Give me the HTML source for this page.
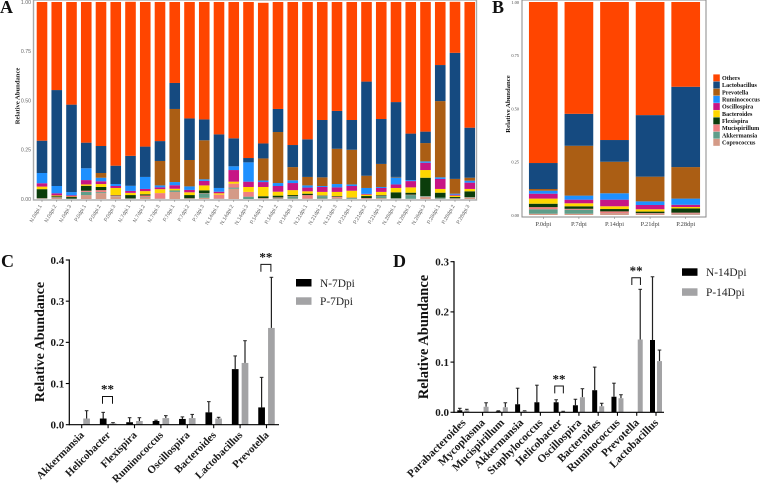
<!DOCTYPE html>
<html lang="en">
<head>
<meta charset="utf-8">
<title>Relative abundance of gut microbiota</title>
<style>
html,body{margin:0;padding:0;background:#fff;width:760px;height:485px;overflow:hidden}
svg{display:block}
text{font-family:"Liberation Serif",serif}
.sans{font-family:"Liberation Sans",sans-serif}
.letter{font-size:18px;font-weight:bold;fill:#111}
.title-bar{font-weight:bold;fill:#111;text-anchor:middle}
.tick-bar{font-weight:bold;fill:#1a1a1a}
.legend-bar{font-size:11.4px;fill:#222}
</style>
</head>
<body>
<svg id="chart" width="760" height="485" viewBox="0 0 760 485" xmlns="http://www.w3.org/2000/svg">
  <rect width="760" height="485" fill="#fff"/>
  <text class="letter" x="0" y="13">A</text>
  <text class="letter" x="492" y="13">B</text>
  <text class="letter" x="1" y="267">C</text>
  <text class="letter" x="393" y="267">D</text>
  <g id="panel-a"></g>
  <g id="panel-b"></g>
  <g id="panel-c"></g>
  <g id="panel-d"></g>
</svg>
<script>
const genera = ["Coprococcus","Akkermansia","Mucispirillum","Flexispira","Bacteroides","Oscillospira","Ruminococcus","Prevotella","Lactobacillus","Others"];
const legendOrder = ["Others","Lactobacillus","Prevotella","Ruminococcus","Oscillospira","Bacteroides","Flexispira","Mucispirillum","Akkermansia","Coprococcus"];
const stackTicks = [0, 0.25, 0.5, 0.75, 1];
const stackTickLabels = ["0.00","0.25","0.50","0.75","1.00"];

const samplesA = ["N.0dpi.1","N.0dpi.2","N.0dpi.3","P.0dpi.1","P.0dpi.2","P.0dpi.3","N.7dpi.1","N.7dpi.2","N.7dpi.3","P.7dpi.1","P.7dpi.2","P.7dpi.3","N.14dpi.1","N.14dpi.2","N.14dpi.3","P.14dpi.1","P.14dpi.2","P.14dpi.3","N.21dpi.1","N.21dpi.2","N.21dpi.3","P.21dpi.1","P.21dpi.2","P.21dpi.3","N.28dpi.1","N.28dpi.2","N.28dpi.3","P.28dpi.1","P.28dpi.2","P.28dpi.3"];
const aCoprococcus = [.003,.005,.001,.02,.03,.012,.001,.008,.001,.036,.001,.006,.001,.052,0,.001,.003,.002,.001,.002,.004,.001,.001,.004,.001,.001,.012,.002,.002,.008];
const aAkkermansia = [.002,.003,.001,.016,.005,.002,.001,.002,.001,.007,.001,.022,.001,.006,.012,.002,.003,.01,.001,.013,.002,.004,.001,.011,.002,.019,.003,.005,.001,.002];
const aMucispirillum = [0,.002,0,.006,.01,.004,.001,.008,.028,0,.002,.002,.02,.02,.024,.002,.002,.002,.018,.002,.006,.002,.003,.002,.001,.002,0,0,.001,0];
const aFlexispira = [.045,.004,.008,.025,.016,.002,.017,.006,0,.001,.016,.014,0,0,0,.009,.009,.006,.007,.002,.003,.001,.01,.003,.03,.01,.093,.025,.006,.029];
const aBacteroides = [.013,.004,.003,.007,.015,.036,.011,.016,.02,.008,.014,.025,.007,.01,.025,.047,.02,.025,.012,.017,.021,.034,.007,.016,.022,.027,.039,.019,.007,.012];
const aOscillospira = [.017,.011,.006,.022,.014,.01,.01,.011,.009,.018,.012,.023,.008,.059,.027,.025,.029,.036,.019,.025,.023,.024,.004,.02,.018,.032,.037,.051,.005,.032];
const aRuminococcus = [.052,.037,.016,.06,.018,.01,.026,.061,.01,.016,.018,.008,.019,.019,.098,.008,.015,.014,.011,.005,.017,.008,.03,.005,.035,.005,.007,.008,.005,.01];
const aPrevotella = [0,0,0,0,.024,0,0,0,.124,.371,.134,.198,0,0,0,.112,.259,.067,.043,.044,.179,.176,.062,.117,.003,0,.093,.387,.075,.015];
const aLactobacillus = [.164,.487,.444,.13,.137,.093,.152,.154,.101,.132,.211,.106,.272,.142,.022,.076,.117,.112,.191,.291,.192,.151,.478,.228,.38,.236,.058,.183,.64,.254];
const aOthers = [.704,.447,.521,.714,.731,.831,.782,.734,.706,.411,.591,.596,.672,.692,.792,.714,.543,.726,.697,.599,.553,.599,.404,.594,.508,.668,.658,.32,.259,.638];

const groupsB = ["P.0dpi","P.7dpi","P.14dpi","P.21dpi","P.28dpi"];
const bCoprococcus = [.006,.006,.006,.005,.004];
const bAkkermansia = [.021,.019,.001,.001,.002];
const bMucispirillum = [.01,.004,.01,.003,.005];
const bFlexispira = [.016,.012,.011,.007,.02];
const bBacteroides = [.024,.014,.013,.011,.0065];
const bOscillospira = [.023,.017,.031,.02,.0105];
const bRuminococcus = [.014,.019,.03,.017,.029];
const bPrevotella = [.008,.234,.148,.116,.148];
const bLactobacillus = [.122,.15,.102,.289,.377];
const bOthers = [.756,.525,.648,.531,.398];

const categoriesC = ["Akkermansia","Helicobacter","Flexispira","Ruminococcus","Oscillospira","Bacteroides","Lactobacillus","Prevotella"];
const cNegative = [0,.015,.006,.009,.014,.03,.135,.042];
const cNegativeErrorTop = [0,.03,.017,.011,.019,.056,.167,.115];
const cPositive = [.015,.003,.009,.016,.016,.015,.15,.235];
const cPositiveErrorTop = [.034,.005,.017,.022,.025,.018,.204,.358];
const cTicks = [0,.1,.2,.3,.4];
const cTickLabels = ["0.0","0.1","0.2","0.3","0.4"];
const cSeriesNames = ["N-7Dpi","P-7Dpi"];
const cSignificant = ["Helicobacter","Prevotella"];

const categoriesD = ["Parabacteroides","Mycoplasma","Mucispirillum","Akkermansia","Staphylococcus","Helicobacter","Oscillospira","Bacteroides","Ruminococcus","Prevotella","Lactobacillus"];
const dNegative = [.004,0,.002,.016,.02,.02,.014,.044,.031,0,.144];
const dNegativeErrorTop = [.008,0,.003,.048,.054,.025,.026,.09,.058,0,.27];
const dPositive = [.004,.011,.01,.002,0,.001,.03,.012,.028,.145,.102];
const dPositiveErrorTop = [.006,.019,.019,.003,0,.002,.047,.018,.035,.245,.124];
const dTicks = [0,.1,.2,.3];
const dTickLabels = ["0.0","0.1","0.2","0.3"];
const dSeriesNames = ["N-14Dpi","P-14Dpi"];
const dSignificant = ["Helicobacter","Prevotella"];

const generaColors = {Others:"#FF4500",Lactobacillus:"#154A80",Prevotella:"#AB5E14",Ruminococcus:"#1E90FF",Oscillospira:"#C71585",Bacteroides:"#FFD700",Flexispira:"#0B3D0B",Mucispirillum:"#F08080",Akkermansia:"#5F9E8A",Coprococcus:"#D49A87"};
const NS = "http://www.w3.org/2000/svg";

function mk(parent, tag, attrs, text) {
  const el = document.createElementNS(NS, tag);
  for (const k in attrs) el.setAttribute(k, attrs[k]);
  if (text !== undefined) el.textContent = text;
  parent.appendChild(el);
  return el;
}
function slug(s) { return String(s).toLowerCase().replace(/[^a-z0-9]+/g, '-').replace(/^-|-$/g, ''); }

function drawStack(root, cfg) {
  const xScale = i => cfg.x0 + i * cfg.step;
  const yScale = v => cfg.y0 - v * cfg.yLen;
  const frame = mk(root, 'rect', {x:cfg.fx, y:cfg.fy, width:cfg.fw, height:cfg.fh, fill:'none', stroke:cfg.frameColor, 'stroke-width':cfg.frameWidth});
  
  
  cfg.labels.forEach((label, i) => {
    let acc = 0;
    cfg.series.forEach((vals, s) => {
      const v = vals[i];
      if (v > 0) {
        const rect = mk(root, 'rect', {x:xScale(i) - cfg.barW / 2, y:yScale(acc + v), width:cfg.barW, height:yScale(acc) - yScale(acc + v), fill:generaColors[genera[s]]});
        
        
      }
      acc += v;
    });
    const tk = mk(root, 'line', {x1:xScale(i), x2:xScale(i), y1:cfg.fy + cfg.fh, y2:cfg.fy + cfg.fh + 2, stroke:'#888', 'stroke-width':0.6});
    
    
    const lx = xScale(i) + cfg.labelDx, ly = cfg.labelY;
    const t = mk(root, 'text', {x:lx, y:ly, 'text-anchor':cfg.labelAnchor, 'font-size':cfg.labelSize, fill:cfg.labelColor, transform:cfg.labelRot ? `rotate(${cfg.labelRot} ${lx} ${ly})` : ''}, label);
    
    
    if (cfg.labelSans) t.setAttribute('class', 'sans');
  });
  stackTicks.forEach((v, i) => {
    const t = mk(root, 'text', {x:cfg.yLabelX, y:yScale(v) + 1.8, 'text-anchor':'end', 'font-size':cfg.yLabelSize, fill:cfg.yLabelColor}, stackTickLabels[i]);
    
    
    if (cfg.labelSans) t.setAttribute('class', 'sans');
  });
  const title = mk(root, 'text', {class:'title-bar', x:0, y:0, 'font-size':cfg.titleSize, transform:`translate(${cfg.titleX} ${cfg.titleY}) rotate(-90)`}, 'Relative Abundance');
  
  
}

drawStack(document.getElementById('panel-a'), {
  labels: samplesA,
  series: [aCoprococcus,aAkkermansia,aMucispirillum,aFlexispira,aBacteroides,aOscillospira,aRuminococcus,aPrevotella,aLactobacillus,aOthers],
  x0:42, step:14.75, barW:10.6, y0:199, yLen:197,
  fx:33.5, fy:0, fw:443, fh:200, frameColor:'#aaa', frameWidth:1.4,
  labelDx:0, labelY:206, labelAnchor:'end', labelSize:5.2, labelColor:'#666', labelRot:-60, labelSans:true,
  yLabelX:31, yLabelSize:5.2, yLabelColor:'#666',
  titleSize:6.6, titleX:19.5, titleY:96
});

drawStack(document.getElementById('panel-b'), {
  labels: groupsB,
  series: [bCoprococcus,bAkkermansia,bMucispirillum,bFlexispira,bBacteroides,bOscillospira,bRuminococcus,bPrevotella,bLactobacillus,bOthers],
  x0:543.3, step:35.6, barW:28.7, y0:215, yLen:213,
  fx:522, fy:0, fw:184, fh:217, frameColor:'#888', frameWidth:1,
  labelDx:0, labelY:226, labelAnchor:'middle', labelSize:6.4, labelColor:'#444', labelRot:0, labelSans:false,
  yLabelX:519, yLabelSize:4.4, yLabelColor:'#444',
  titleSize:6.7, titleX:510, titleY:104
});

const legendB = document.getElementById('panel-b');
legendOrder.forEach((name, i) => {
  const y = 74.4 + i * 7.17;
  const sw = mk(legendB, 'rect', {x:713.3, y:y, width:6.5, height:6.9, fill:generaColors[name]});
  
  
  const t = mk(legendB, 'text', {x:722, y:y + 5.6, 'font-size':6.1, 'font-weight':'bold', fill:'#111'}, name);
  
  
});

function drawBars(root, cfg) {
  const xScale = i => cfg.x0 + i * cfg.step;
  const yScale = v => cfg.y0 - v / cfg.yMax * cfg.yLen;
  const colors = ['#000', '#a3a3a5'];
  cfg.categories.forEach((cat, i) => {
    [[cfg.neg, cfg.negErr], [cfg.pos, cfg.posErr]].forEach((pair, s) => {
      const v = pair[0][i], e = pair[1][i];
      const cx = xScale(i) + (s === 0 ? -cfg.offset : cfg.offset);
      if (e > 0) {
        const stem = mk(root, 'line', {x1:cx, x2:cx, y1:yScale(v), y2:yScale(e), stroke:'#222', 'stroke-width':1.2});
        
        
        const cap = mk(root, 'line', {x1:cx - 1.8, x2:cx + 1.8, y1:yScale(e), y2:yScale(e), stroke:'#222', 'stroke-width':1});
        
        
      }
      if (v > 0) {
        const bar = mk(root, 'rect', {x:cx - cfg.barW / 2, y:yScale(v), width:cfg.barW, height:cfg.y0 - yScale(v), fill:colors[s]});
        
        
      }
    });
    const tk = mk(root, 'line', {x1:xScale(i), x2:xScale(i), y1:cfg.y0, y2:cfg.y0 + 3.5, stroke:'#000', 'stroke-width':1.1});
    
    
    const lx = xScale(i) + 3, ly = cfg.y0 + 11;
    const t = mk(root, 'text', {class:'tick-bar', x:lx, y:ly, 'text-anchor':'end', 'font-size':cfg.catSize, transform:`rotate(-45 ${lx} ${ly})`}, cat);
    
    
    const sigIndex = cfg.significant.indexOf(cat);
    if (sigIndex >= 0) {
      const tops = Math.max(cfg.neg[i], cfg.pos[i], cfg.negErr[i], cfg.posErr[i]);
      const by = yScale(tops) - cfg.bracketGap[sigIndex];
      const hw = cfg.bracketHalf;
      const br = mk(root, 'path', {d:`M${xScale(i) - hw - 0.6} ${by}V${by - 7.3}H${xScale(i) + hw - 0.6}V${by}`, fill:'none', stroke:'#111', 'stroke-width':1});
      
      
      const st = mk(root, 'text', {x:xScale(i) - 0.6, y:by - 10, 'text-anchor':'middle', 'font-size':13, 'font-weight':'bold', fill:'#111'}, '**');
      
      
    }
  });
  const yAxis = mk(root, 'line', {x1:cfg.axisX, x2:cfg.axisX, y1:cfg.y0 + 0.6, y2:cfg.y0 - cfg.yLen - 0.6, stroke:'#000', 'stroke-width':1.2});
  
  
  const xAxis = mk(root, 'line', {x1:cfg.axisX, x2:cfg.axisEnd, y1:cfg.y0, y2:cfg.y0, stroke:'#000', 'stroke-width':1.2});
  
  
  cfg.ticks.forEach((v, i) => {
    const tk = mk(root, 'line', {x1:cfg.axisX - 3.5, x2:cfg.axisX, y1:yScale(v), y2:yScale(v), stroke:'#000', 'stroke-width':1.1});
    
    
    const t = mk(root, 'text', {class:'tick-bar', x:cfg.axisX - 5, y:yScale(v) + 3.8, 'text-anchor':'end', 'font-size':11}, cfg.tickLabels[i]);
    
    
  });
  const title = mk(root, 'text', {class:'title-bar', x:0, y:0, 'font-size':cfg.titleSize, transform:`translate(${cfg.titleX} ${cfg.titleY}) rotate(-90)`}, 'Relative Abundance');
  
  
  cfg.names.forEach((name, s) => {
    const sw = mk(root, 'rect', {x:cfg.legX, y:cfg.legY[s], width:15.5, height:7.5, fill:colors[s]});
    
    
    const t = mk(root, 'text', {class:'legend-bar', x:cfg.legX + 24, y:cfg.legY[s] + 7.8}, name);
    
    
  });
}

drawBars(document.getElementById('panel-c'), {
  categories:categoriesC, neg:cNegative, negErr:cNegativeErrorTop, pos:cPositive, posErr:cPositiveErrorTop,
  names:cSeriesNames, significant:cSignificant, ticks:cTicks, tickLabels:cTickLabels,
  x0:81.7, step:26.4, offset:4.9, barW:6.7, y0:424.7, yLen:164.7, yMax:.4,
  axisX:69.3, axisEnd:279, catSize:10.8, titleSize:14, titleX:44, titleY:342,
  legX:296, legY:[279,297.3], bracketGap:[8.6,5.6], bracketHalf:5
});

drawBars(document.getElementById('panel-d'), {
  categories:categoriesD, neg:dNegative, negErr:dNegativeErrorTop, pos:dPositive, posErr:dPositiveErrorTop,
  names:dSeriesNames, significant:dSignificant, ticks:dTicks, tickLabels:dTickLabels,
  x0:463.3, step:19.27, offset:3.5, barW:5, y0:412.3, yLen:150.6, yMax:.3,
  axisX:454, axisEnd:664, catSize:11.2, titleSize:14.5, titleX:428, titleY:337,
  legX:682, legY:[268.3,288.3], bracketGap:[6.4,4.3], bracketHalf:4.3
});
</script>
</body>
</html>
